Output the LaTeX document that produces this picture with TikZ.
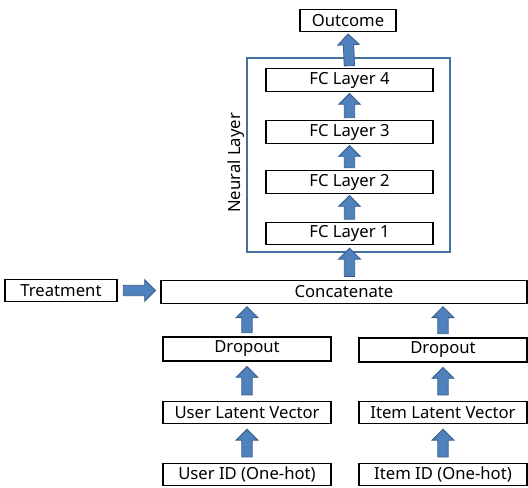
\documentclass[tikz,border=0pt]{standalone}
\usepackage{fontspec}
\setmainfont{Noto Sans}
\usepackage{tikz}
\usepackage{xcolor}
\usetikzlibrary{shapes.arrows,calc}

\definecolor{arrowblue}{HTML}{4F81BD}
\definecolor{arrowedge}{HTML}{385D8A}
\definecolor{frameblue}{HTML}{41719C}

\tikzset{
  box/.style={draw, line width=0.8pt, inner sep=0pt, minimum height=17pt},
  boxw/.style={minimum width=#1*0.75pt},
  fatarrow/.style={single arrow, fill=arrowblue, draw=arrowedge, line width=0.6pt,
    minimum width=0pt, single arrow head extend=4.2pt, inner xsep=0pt, inner ysep=3.6pt,
    anchor=tail},
}

% block arrow between two points, #1 = gap at both ends
\newcommand{\blockarr}[3][2.5pt]{%
  \path let \p1=(#2), \p2=(#3), \n1={veclen(\x2-\x1,\y2-\y1)-2*#1},
    \n2={atan2(\y2-\y1,\x2-\x1)} in
    node[fatarrow, rotate=\n2, minimum height=\n1] at ($(\p1)!#1!(\p2)$) {};}

\begin{document}
\begin{tikzpicture}[x=0.75pt, y=-0.75pt, font=\fontsize{12.5}{15}\selectfont]
  \useasboundingbox (0,0) rectangle (528,488);

  % inputs
  \node[box, boxw=168] (uid) at (247,474.5) {User ID (One-hot)};
  \node[box, boxw=168] (iid) at (443,474.5) {Item ID (One-hot)};
  \node[box, boxw=168] (ulv) at (247,412.5) {User Latent Vector};
  \node[box, boxw=168] (ilv) at (443,412.5) {Item Latent Vector};
  \node[box, boxw=168, minimum height=18pt] (dropu) at (247,349) {Dropout};
  \node[box, boxw=168, minimum height=18pt] (dropi) at (443,350) {Dropout};
  \node[box, boxw=366] (concat) at (344,292) {Concatenate};
  \node[box, boxw=112] (treat) at (61,290.5) {Treatment};

  % neural layer
  \node[draw=frameblue, line width=1.5pt, boxw=203, minimum height=145.5pt] (nn) at (348.5,155) {};
  \node[rotate=90] (nnlabel) at (236,163) {Neural Layer};
  \node[box, boxw=167] (fc1) at (349.5,233.5) {FC Layer 1};
  \node[box, boxw=167] (fc2) at (349.5,182) {FC Layer 2};
  \node[box, boxw=167] (fc3) at (349.5,132) {FC Layer 3};
  \node[box, boxw=167] (fc4) at (349.5,80) {FC Layer 4};
  \node[box, boxw=96] (out) at (348,20.5) {Outcome};

  % arrows
  \blockarr[4pt]{uid.north}{ulv.south}
  \blockarr[4pt]{iid.north}{ilv.south}
  \blockarr[4pt]{ulv.north}{dropu.south}
  \blockarr[4pt]{ilv.north}{dropi.south}
  \blockarr{dropu.north}{dropu.north |- concat.south}
  \blockarr{dropi.north}{dropi.north |- concat.south}
  \blockarr[4pt]{treat.east}{treat.east -| concat.west}
  \blockarr{concat.north -| fc1.south}{fc1.south}
  \blockarr[1.5pt]{fc1.north}{fc2.south}
  \blockarr[1.5pt]{fc2.north}{fc3.south}
  \blockarr[1.5pt]{fc3.north}{fc4.south}
  \blockarr[1.5pt]{fc4.north}{out.south}
\end{tikzpicture}
\end{document}
